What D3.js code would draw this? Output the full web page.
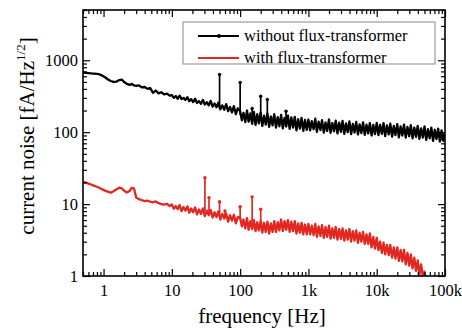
<!DOCTYPE html>
<html><head><meta charset="utf-8">
<script src="https://cdn.jsdelivr.net/npm/d3@7"></script>
<style>body{margin:0;background:#fff}svg{display:block}</style>
</head><body><svg id="c" width="462" height="329"></svg>
<script>
// frequency grid [Hz]
const freq = [
 0.5,0.55,0.6,0.66,0.72,0.8,0.88,0.96,1.05,1.15,1.27,1.4,1.55,1.7,1.85,2.0,2.2,2.4,2.6,2.8,3.0,3.3,3.6,4.0,4.4,4.8,5.3,5.8,6.4,7.0,7.7,8.5,9.3,
 10,10.7,11.4,12.2,13,13.9,14.8,15.8,16.9,18,19.2,20.5,21.9,23.4,25,26.7,28.5,30.4,32.5,34.7,37,39.5,42.2,45,48,51.3,54.8,58.5,62.4,66.6,71.1,75.9,81,86.5,92.3,
 100,106,112,119,126,133,141,150,159,168,178,188,200,211,224,237,251,266,282,299,316,335,355,376,398,422,447,473,501,531,562,596,631,668,708,750,794,841,891,944,
 1000,1060,1120,1190,1260,1330,1410,1500,1580,1680,1780,1880,2000,2110,2240,2370,2510,2660,2820,2990,3160,3350,3550,3760,3980,4220,4470,4730,5010,5310,5620,5960,6310,6680,7080,7500,7940,8410,8910,9440,
 10000,10600,11200,11900,12600,13300,14100,15000,15800,16800,17800,18800,20000,21100,22400,23700,25100,26600,28200,29900,31600,33500,35500,37600,39800,42200,44700,47300,50100,53100,56200,59600,63100,66800,70800,75000,79400,84100,89100,94400,100000
];
// current noise without flux-transformer [fA/Hz^1/2]
const withoutFT = [
 672,668,662,655,650,645,635,612,580,545,515,500,505,530,538,498,470,455,468,446,440,448,421,425,400,412,352,380,346,360,336,344,322,
 328,300,318,292,322,288,300,281,306,270,288,262,291,255,270,248,281,242,262,236,272,226,250,222,258,208,236,205,246,196,224,188,230,178,215,
 196,146,186,138,200,140,182,131,192,126,178,133,188,122,170,128,182,119,165,124,178,116,162,121,174,113,158,120,170,111,160,116,163,106,152,112,158,104,148,108,
 150,106,142,110,154,101,140,107,147,99,137,104,150,98,134,103,145,96,136,101,143,95,132,100,141,94,130,99,139,93,128,97,137,92,127,96,134,90,126,94,
 135,91,126,95,134,88,124,93,131,87,122,91,129,85,120,90,127,84,118,88,125,82,116,86,122,81,113,84,120,78,110,82,116,76,108,80,112,74,106,76,98
];
// current noise with flux-transformer [fA/Hz^1/2]
const withFT = [
 20.5,19.9,19.3,18.7,18.1,17.4,16.7,16.0,15.4,14.9,14.4,15.1,16.1,16.9,16.6,15.3,14.5,15.2,16.9,16.4,12.4,11.7,11.4,11.0,11.2,10.8,10.6,10.9,10.3,10.0,9.8,10.1,9.4,
 9.9,8.6,9.4,8.5,9.7,8.0,9.1,8.1,9.3,7.6,8.7,7.7,9.0,7.2,8.4,7.3,8.7,6.8,8.1,7.0,8.3,6.5,7.7,6.6,7.9,6.1,7.3,6.3,7.4,5.7,7.0,5.9,7.1,5.4,6.6,
 6.5,4.9,6.1,4.6,6.4,4.4,5.8,4.5,6.0,4.2,5.6,4.3,5.8,4.0,5.5,4.1,5.7,3.9,5.4,4.1,5.8,4.1,5.6,4.3,6.1,4.2,5.8,4.4,6.0,4.1,5.7,4.2,5.8,3.9,5.4,4.0,5.5,3.8,5.2,3.8,
 5.3,3.8,5.0,3.7,5.3,3.5,4.9,3.6,5.1,3.4,4.8,3.5,5.0,3.3,4.6,3.4,4.8,3.2,4.5,3.3,4.6,3.1,4.3,3.2,4.5,3.0,4.2,3.1,4.3,2.9,4.0,3.0,4.1,2.8,3.8,2.8,3.9,2.5,3.5,2.4,
 3.4,2.3,3.0,2.1,2.9,2.0,2.7,1.95,2.7,1.8,2.5,1.75,2.5,1.62,2.3,1.6,2.3,1.45,2.1,1.4,2.0,1.28,1.8,1.18,1.65,1.05,1.45,0.98,1.15,0.8,
 null,null,null,null,null,null,null,null,null,null,null
];
// line-frequency spikes: [frequency, base, top]
const spikesWithout = [[50,215,635],[100,175,490],[150,165,213],[200,160,316],[250,155,285],[470,150,195]];
const spikesWith = [[30.5,8,23.3],[35,7.5,12.3],[50,7,10.8],[60,6.5,8.0],[100,6,9.2],[150,5.5,12.6],[200,5,8.5]];

const xMajor = [1,10,100,1000,10000,100000];
const xTickLabels = ["1","10","100","1k","10k","100k"];
const yMajor = [1,10,100,1000];
const yTickLabels = ["1","10","100","1000"];
const seriesNames = ["without flux-transformer","with flux-transformer"];
const seriesColors = ["#000000","#e3261f"];

const FONT = "Liberation Serif, Times New Roman, serif";
const L=83, R=445, T=10, B=276;
const x = d3.scaleLog().domain([0.5,1e5]).range([L,R]);
const y = d3.scaleLog().domain([1,5000]).range([B,T]);

const svg = d3.select("#c");
svg.append("defs").append("clipPath").attr("id","clip")
  .append("rect").attr("x",L).attr("y",T).attr("width",R-L).attr("height",B-T);

const plot = svg.append("g").attr("clip-path","url(#clip)");
const rows = freq.map((f,i)=>({f, a:withoutFT[i], b:withFT[i]}));
const lineA = d3.line().x(d=>x(d.f)).y(d=>y(d.a));
const lineB = d3.line().defined(d=>d.b!=null).x(d=>x(d.f)).y(d=>y(d.b));

function drawSeries(lineGen, spikes, color){
  plot.append("path").datum(rows).attr("d",lineGen)
    .attr("fill","none").attr("stroke",color).attr("stroke-width",2.3).attr("stroke-linejoin","round");
  plot.selectAll(null).data(spikes).enter().append("line")
    .attr("x1",d=>x(d[0])).attr("x2",d=>x(d[0]))
    .attr("y1",d=>y(d[1])).attr("y2",d=>y(d[2]))
    .attr("stroke",color).attr("stroke-width",1.7);
  plot.selectAll(null).data(spikes).enter().append("circle")
    .attr("cx",d=>x(d[0])).attr("cy",d=>y(d[2])).attr("r",1.7).attr("fill",color);
}
drawSeries(lineB, spikesWith, seriesColors[1]);
drawSeries(lineA, spikesWithout, seriesColors[0]);

// axes
const xMinor = x.ticks().filter(v=>!xMajor.includes(v));
const yMinor = y.ticks().filter(v=>!yMajor.includes(v));
function styleAxis(g){
  g.select(".domain").remove();
  g.selectAll("line").attr("stroke","#000").attr("stroke-width",1.2);
  g.selectAll("text").style("font-family",FONT).attr("font-size",16.5).attr("fill","#000");
}
svg.append("g").attr("transform",`translate(0,${B})`)
  .call(d3.axisBottom(x).tickValues(xMajor).tickFormat((d,i)=>xTickLabels[i]).tickSize(-7).tickPadding(8)).call(styleAxis);
svg.append("g").attr("transform",`translate(0,${B})`)
  .call(d3.axisBottom(x).tickValues(xMinor).tickFormat("").tickSize(-4)).call(styleAxis);
svg.append("g").attr("transform",`translate(0,${T})`)
  .call(d3.axisTop(x).tickValues(xMajor).tickFormat("").tickSize(-7)).call(styleAxis);
svg.append("g").attr("transform",`translate(0,${T})`)
  .call(d3.axisTop(x).tickValues(xMinor).tickFormat("").tickSize(-4)).call(styleAxis);
svg.append("g").attr("transform",`translate(${L},0)`)
  .call(d3.axisLeft(y).tickValues(yMajor).tickFormat((d,i)=>yTickLabels[i]).tickSize(-7).tickPadding(5)).call(styleAxis);
svg.append("g").attr("transform",`translate(${L},0)`)
  .call(d3.axisLeft(y).tickValues(yMinor).tickFormat("").tickSize(-4)).call(styleAxis);
svg.append("g").attr("transform",`translate(${R},0)`)
  .call(d3.axisRight(y).tickValues(yMajor).tickFormat("").tickSize(-7)).call(styleAxis);
svg.append("g").attr("transform",`translate(${R},0)`)
  .call(d3.axisRight(y).tickValues(yMinor).tickFormat("").tickSize(-4)).call(styleAxis);

svg.append("rect").attr("x",L).attr("y",T).attr("width",R-L).attr("height",B-T)
  .attr("fill","none").attr("stroke","#000").attr("stroke-width",1.6);

// axis titles
svg.append("text").attr("x",(L+R)/2-2).attr("y",323).attr("text-anchor","middle")
  .style("font-family",FONT).attr("font-size",21).text("frequency [Hz]");
const yt = svg.append("text").attr("transform","translate(34,136) rotate(-90)").attr("text-anchor","middle")
  .style("font-family",FONT).attr("font-size",21);
yt.append("tspan").text("current noise [fA/Hz");
yt.append("tspan").attr("font-size",13).attr("dy",-9).text("1/2");
yt.append("tspan").attr("dy",9).text("]");

// legend
const lg = svg.append("g");
lg.append("rect").attr("x",183).attr("y",22).attr("width",252).attr("height",42)
  .attr("fill","#fff").attr("stroke","#888").attr("stroke-width",1);
seriesNames.forEach((name,i)=>{
  const yy = 36 + i*22;
  lg.append("line").attr("x1",198).attr("x2",239).attr("y1",yy).attr("y2",yy)
    .attr("stroke",seriesColors[i]).attr("stroke-width",1.8);
  if(i===0) lg.append("circle").attr("cx",219).attr("cy",yy).attr("r",1.9).attr("fill",seriesColors[i]);
  lg.append("text").attr("x",244).attr("y",yy).attr("dy","0.33em")
    .style("font-family",FONT).attr("font-size",16.5).text(name);
});
</script></body></html>
